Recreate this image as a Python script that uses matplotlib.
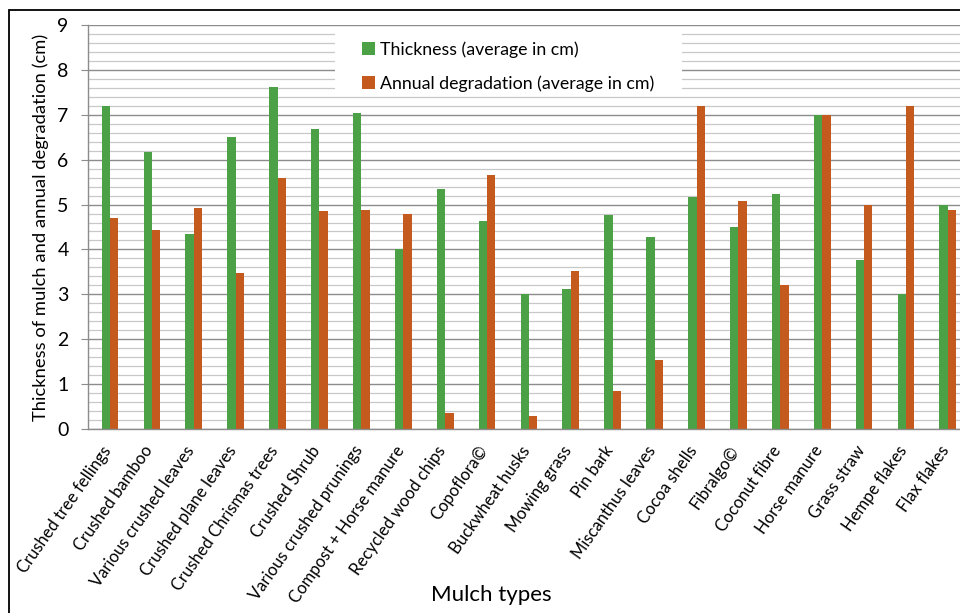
import matplotlib
matplotlib.use("Agg")
import matplotlib.pyplot as plt
from matplotlib.ticker import MultipleLocator
from matplotlib.patches import Rectangle
from matplotlib.transforms import ScaledTranslation
import numpy as np

mulch_types = ["Crushed tree fellings", "Crushed bamboo", "Various crushed leaves",
               "Crushed plane leaves", "Crushed Chrismas trees", "Crushed Shrub",
               "Various crushed prunings", "Compost + Horse manure", "Recycled wood chips",
               "Copoflora©", "Buckwheat husks", "Mowing grass", "Pin bark",
               "Miscanthus leaves", "Cocoa shells", "Fibralgo©", "Coconut fibre",
               "Horse manure", "Grass straw", "Hempe flakes", "Flax flakes"]
thickness = [7.2, 6.17, 4.35, 6.5, 7.63, 6.68, 7.05, 4.0, 5.35, 4.63, 3.0,
             3.11, 4.77, 4.27, 5.16, 4.5, 5.24, 7.0, 3.76, 3.0, 5.0]
degradation = [4.7, 4.43, 4.93, 3.48, 5.6, 4.85, 4.88, 4.8, 0.35, 5.66, 0.3,
               3.53, 0.85, 1.54, 7.2, 5.08, 3.2, 7.0, 5.0, 7.2, 4.88]

green = "#4CA046"
orange = "#C55A1E"

plt.rcParams['font.family'] = ['Lato', 'DejaVu Sans']

fig = plt.figure(figsize=(9.6, 6.13), dpi=100)
ax = fig.add_axes([0.0917, 0.3002, 0.9083, 0.659])

x = np.arange(len(mulch_types))
w = 0.2
b1 = ax.bar(x - w / 2, thickness, w, color=green, label="Thickness (average in cm)", zorder=2)
b2 = ax.bar(x + w / 2, degradation, w, color=orange, label="Annual degradation (average in cm)", zorder=2)

ax.set_xlim(-0.525, 20.29)
ax.set_ylim(0, 9)
ax.yaxis.set_major_locator(MultipleLocator(1))
ax.yaxis.set_minor_locator(MultipleLocator(0.2))
ax.grid(True, which="major", axis="y", color="#8c8c8c", lw=1.0)
ax.grid(True, which="minor", axis="y", color="#c8c8c8", lw=0.9)
ax.set_axisbelow(True)

for s in ["top", "right"]:
    ax.spines[s].set_visible(False)
for s in ["left", "bottom"]:
    ax.spines[s].set_color("#8c8c8c")
    ax.spines[s].set_linewidth(1.0)

ax.tick_params(axis="y", which="major", length=5, color="#8c8c8c", labelsize=14, pad=9)
ax.tick_params(axis="y", which="minor", length=0)
ax.set_xticks(x)
ax.set_xticklabels([])
ax.tick_params(axis="x", length=0)

# category labels, rotated, hanging under each group
shift = ScaledTranslation(-0.09, -0.14, fig.dpi_scale_trans)
for xi, name in zip(x, mulch_types):
    ax.text(xi, 0, name, transform=ax.get_xaxis_transform() + shift,
            rotation=55, ha="right", va="top", rotation_mode="anchor", fontsize=12)

ax.set_ylabel("Thickness of mulch and annual degradation (cm)", fontsize=13.2, labelpad=6)
fig.text(491 / 960, 1 - 595 / 613, "Mulch types", fontsize=16, ha="center", va="center")

# white box behind the legend, hiding the grid
ax.add_patch(Rectangle((0.283, 0.834), 0.398, 0.16, transform=ax.transAxes,
                       facecolor="white", edgecolor="none", zorder=1.5))
ax.legend(handles=[b1, b2], loc="upper left", bbox_to_anchor=(0.3065, 0.978),
          frameon=False, fontsize=12.8, handlelength=0.7, handleheight=0.7,
          handletextpad=0.3, labelspacing=1.0, borderaxespad=0)

# outer frame of the picture
fig.add_artist(Rectangle((9 / 960, -0.1), 1.2, 1.1 - 10 / 613, transform=fig.transFigure,
                         facecolor="none", edgecolor="black", lw=1.3))

fig.savefig("out.png", dpi=100)
